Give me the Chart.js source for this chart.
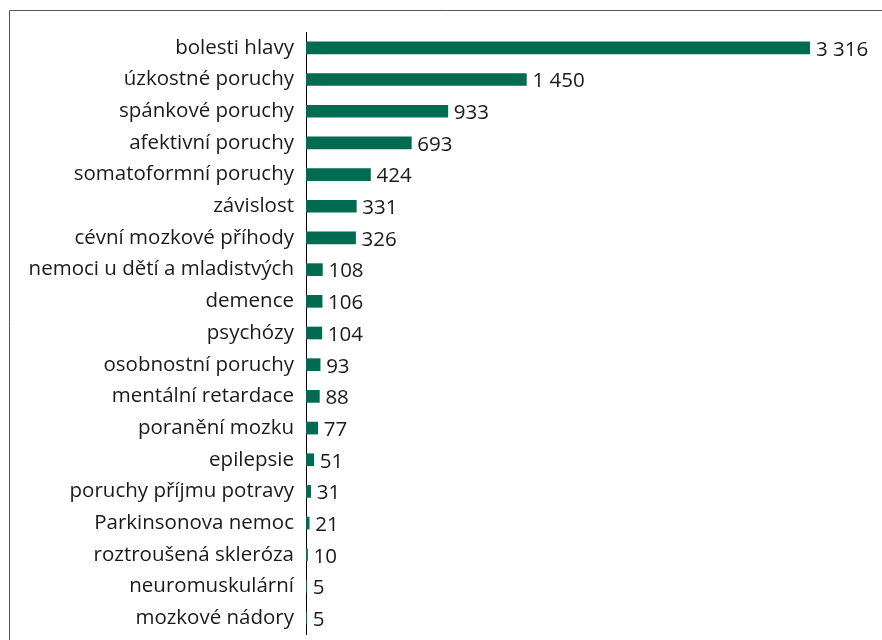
<!DOCTYPE html>
<html>
<head>
<meta charset="utf-8">
<script src="https://cdn.jsdelivr.net/npm/chart.js@4"></script>
<style>
  html, body { margin: 0; padding: 0; background: #fff; overflow: hidden; }
  #wrap { width: 882px; height: 640px; position: relative; }
</style>
</head>
<body>
<div id="wrap"><canvas id="chart" width="882" height="640"></canvas></div>
<script>
const categories = [
    'bolesti hlavy', 'úzkostné poruchy', 'spánkové poruchy', 'afektivní poruchy',
    'somatoformní poruchy', 'závislost', 'cévní mozkové příhody',
    'nemoci u dětí a mladistvých', 'demence', 'psychózy', 'osobnostní poruchy',
    'mentální retardace', 'poranění mozku', 'epilepsie', 'poruchy příjmu potravy',
    'Parkinsonova nemoc', 'roztroušená skleróza', 'neuromuskulární', 'mozkové nádory'
];
const values = [3316, 1450, 933, 693, 424, 331, 326, 108, 106, 104, 93, 88, 77, 51, 31, 21, 10, 5, 5];

const FONT = '"Open Sans", "Noto Sans", sans-serif';

// thousands with a space, like "3 316"
const fmt = v => String(v).replace(/\B(?=(\d{3})+(?!\d))/g, ' ');

// frame around the figure (left and top edges visible)
const framePlugin = {
    id: 'frame',
    beforeDraw(chart) {
        const c = chart.ctx;
        c.save();
        c.strokeStyle = '#555';
        c.lineWidth = 1;
        c.beginPath();
        c.moveTo(9.5, 700);
        c.lineTo(9.5, 10.5);
        c.lineTo(900, 10.5);
        c.stroke();
        c.restore();
    }
};

// value labels at the end of the bars
const valueLabels = {
    id: 'valueLabels',
    afterDatasetsDraw(chart) {
        const c = chart.ctx;
        const meta = chart.getDatasetMeta(0);
        c.save();
        c.font = '20.5px ' + FONT;
        c.fillStyle = '#1a1a1a';
        c.textAlign = 'left';
        c.textBaseline = 'middle';
        meta.data.forEach((bar, i) => {
            c.fillText(fmt(values[i]), bar.x + 6, bar.y + 2);
        });
        c.restore();
    }
};

new Chart(document.getElementById('chart').getContext('2d'), {
    type: 'bar',
    data: {
        labels: categories,
        datasets: [{
            data: values,
            backgroundColor: '#006a52',
            barThickness: 12
        }]
    },
    options: {
        indexAxis: 'y',
        responsive: false,
        animation: false,
        layout: { padding: { top: 32, bottom: 6, left: 0, right: 72 } },
        scales: {
            x: {
                display: false,
                min: 0,
                max: 3316
            },
            y: {
                afterFit(scale) {
                    scale.width = 306;
                    scale.paddingTop = 0;
                    scale.paddingBottom = 0;
                },
                grid: { display: false, drawTicks: false },
                border: { display: true, color: '#000', width: 1 },
                ticks: {
                    padding: 12,
                    color: '#1a1a1a',
                    font: { family: FONT, size: 20.5 }
                }
            }
        },
        plugins: {
            legend: { display: false },
            tooltip: { enabled: false }
        }
    },
    plugins: [framePlugin, valueLabels]
});
</script>
</body>
</html>
